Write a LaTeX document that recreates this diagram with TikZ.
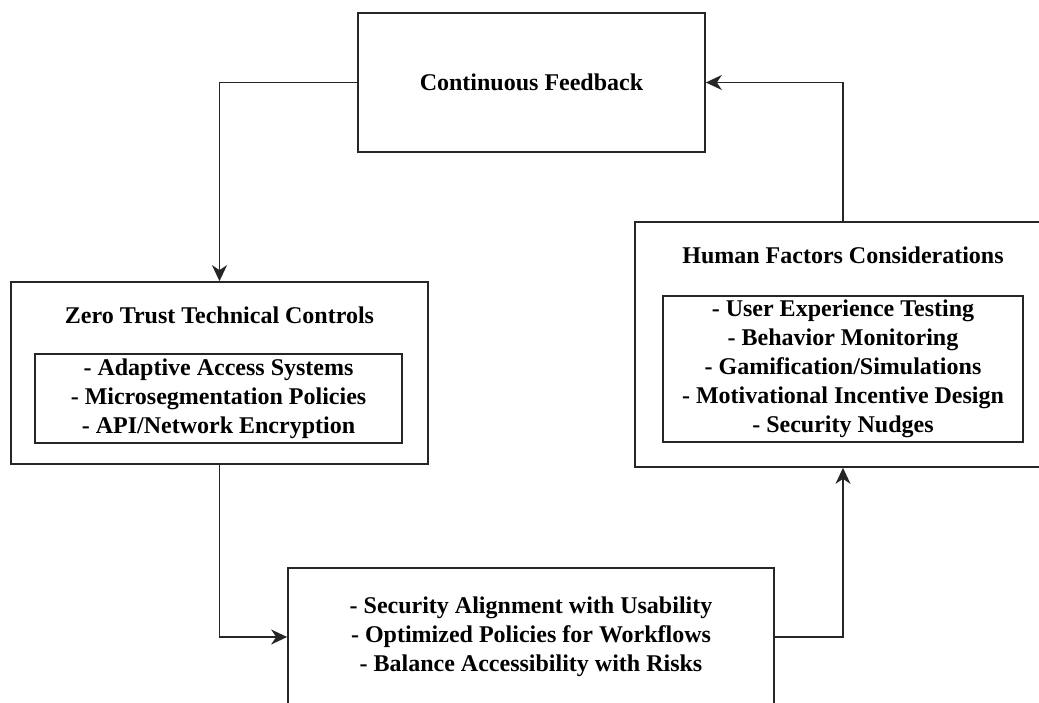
\documentclass[tikz,border=0pt]{standalone}
\usepackage{fontspec}
\setmainfont{Liberation Serif}
\usetikzlibrary{arrows.meta}
\begin{document}
\begin{tikzpicture}[x=1pt,y=-1pt,
  box/.style={draw=black!85, line width=1.7pt, rectangle, inner sep=0pt},
  lbl/.style={font=\fontsize{24}{29}\selectfont\bfseries, align=center, inner sep=0pt},
  conn/.style={draw=black!85, line width=1.7pt, -{Stealth[length=16pt,width=15pt,inset=5pt]}}]
\useasboundingbox (0,0) rectangle (1039,703);
\fill[white] (0,0) rectangle (1039,703);
\begin{scope}
\clip (0,0) rectangle (1039,703);
% Continuous Feedback
\node[box, lbl, minimum width=347pt, minimum height=139pt] (cf) at (531.5,82.5) {Continuous Feedback};
% Zero Trust
\node[box, minimum width=417pt, minimum height=182pt] (zt) at (219.5,373) {};
\node[lbl] (ztt) at (219.5,315) {Zero Trust Technical Controls};
\node[box, lbl, minimum width=367pt, minimum height=89pt] (zti) at (218.5,398.5)
  {- Adaptive Access Systems\\- Microsegmentation Policies\\- API/Network Encryption};
% Human Factors
\node[box, minimum width=416pt, minimum height=245pt] (hf) at (843,344.5) {};
\node[lbl] (hft) at (843,255) {Human Factors Considerations};
\node[box, lbl, minimum width=360pt, minimum height=146pt] (hfi) at (843,369)
  {- User Experience Testing\\- Behavior Monitoring\\- Gamification/Simulations\\- Motivational Incentive Design\\- Security Nudges};
% Bottom
\node[box, lbl, minimum width=486pt, minimum height=138pt] (bb) at (531,637)
  {- Security Alignment with Usability\\- Optimized Policies for Workflows\\- Balance Accessibility with Risks};
% Connectors
\draw[conn] (cf.west) -| (zt.north);
\draw[conn] (zt.south) |- (bb.west);
\draw[conn] (bb.east) -| (hf.south);
\draw[conn] (hf.north) |- (cf.east);
\end{scope}
\end{tikzpicture}
\end{document}
